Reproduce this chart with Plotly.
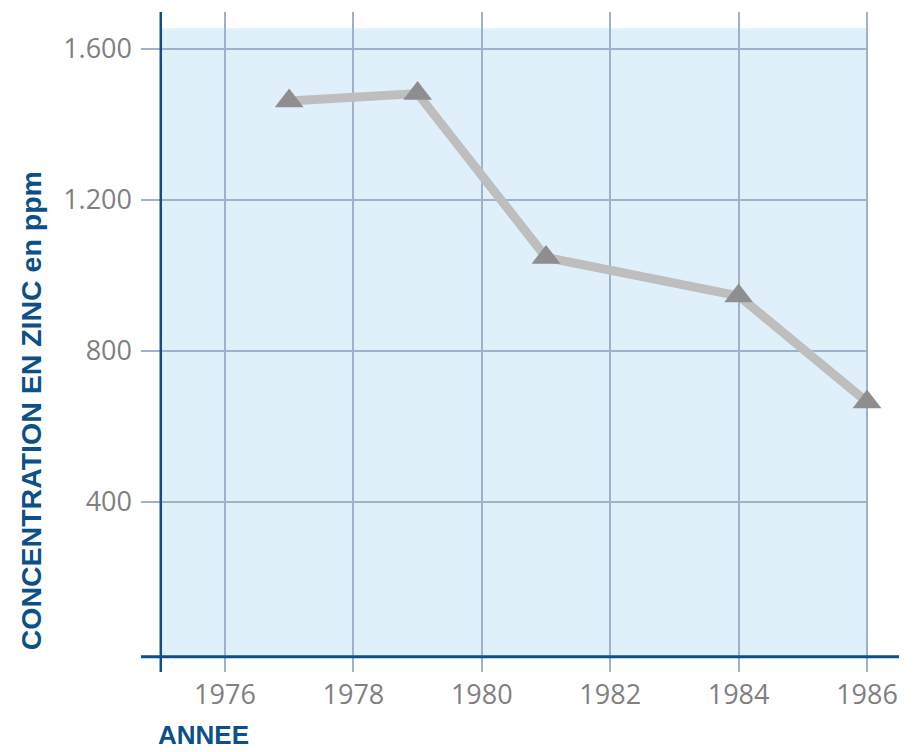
import plotly.graph_objects as go

# Data
years = [1977, 1979, 1981, 1984, 1986]
zinc_ppm = [1462, 1482, 1048, 946, 665]

x_tick_vals = [1976, 1978, 1980, 1982, 1984, 1986]
x_tick_text = ["1976", "1978", "1980", "1982", "1984", "1986"]
y_tick_vals = [400, 800, 1200, 1600]
y_tick_text = ["400", "800", "1.200", "1.600"]

# Styling / layout constants
X_RANGE = [1974.692, 1986.498]
Y_RANGE = [-50.3, 1698.0]
AXIS_X = 1975
AXIS_Y = -10
BG_TOP = 1655
BLUE = "#0b5089"
GRID = "#9fb2ca"
BG = "#dff0fa"
TICK_COLOR = "#808080"

fig = go.Figure()
fig.add_trace(go.Scatter(
    x=years, y=zinc_ppm, mode="lines+markers",
    line=dict(color="#bebebe", width=9),
    marker=dict(symbol="triangle-up", size=25, color="#8e8e91", line=dict(width=0)),
    showlegend=False, hoverinfo="x+y",
))

shapes = []
# light blue plot background
shapes.append(dict(type="rect", xref="x", yref="y", x0=AXIS_X, x1=x_tick_vals[-1],
                   y0=AXIS_Y, y1=BG_TOP, fillcolor=BG, line=dict(width=0), layer="below"))
# horizontal grid lines (extend left past the axis like ticks)
for v in y_tick_vals:
    shapes.append(dict(type="line", xref="x", yref="y", x0=X_RANGE[0], x1=x_tick_vals[-1],
                       y0=v, y1=v, line=dict(color=GRID, width=2), layer="below"))
# axis lines
shapes.append(dict(type="line", xref="paper", yref="y", x0=0, x1=1, y0=AXIS_Y, y1=AXIS_Y,
                   line=dict(color=BLUE, width=3), layer="above"))
shapes.append(dict(type="line", xref="x", yref="paper", x0=AXIS_X, x1=AXIS_X, y0=0, y1=1,
                   line=dict(color=BLUE, width=2.5), layer="above"))

tick_font = dict(family="Open Sans, DejaVu Sans, sans-serif", size=27, color=TICK_COLOR)

# the page body has an 8px margin, so the figure is 8px smaller and margins compensate
fig.update_layout(
    width=905, height=744,
    margin=dict(l=133, r=14, t=4, b=80),
    paper_bgcolor="white", plot_bgcolor="white",
    shapes=shapes,
    xaxis=dict(range=X_RANGE, tickvals=x_tick_vals, ticktext=x_tick_text,
               showgrid=True, gridcolor=GRID, gridwidth=2, zeroline=False,
               showline=False, ticks="", tickfont=tick_font, ticklabelstandoff=4,
               fixedrange=True),
    yaxis=dict(range=Y_RANGE, tickvals=y_tick_vals, ticktext=y_tick_text,
               showgrid=False, zeroline=False, showline=False, ticks="",
               tickfont=tick_font, ticklabelstandoff=8, fixedrange=True),
    annotations=[
        dict(text="CONCENTRATION EN ZINC en ppm", xref="paper", yref="paper",
             x=0, xshift=-110, y=0.395, xanchor="center", yanchor="middle",
             textangle=-90, showarrow=False,
             font=dict(family="Liberation Sans, Arial, sans-serif", size=28.5, color=BLUE, weight="bold")),
        dict(text="ANNEE", xref="paper", yref="paper", x=0, xshift=15, y=0, yshift=-80,
             xanchor="left", yanchor="bottom", showarrow=False,
             font=dict(family="Liberation Sans, Arial, sans-serif", size=26, color=BLUE, weight="bold")),
    ],
)

fig.write_html("out.html")
